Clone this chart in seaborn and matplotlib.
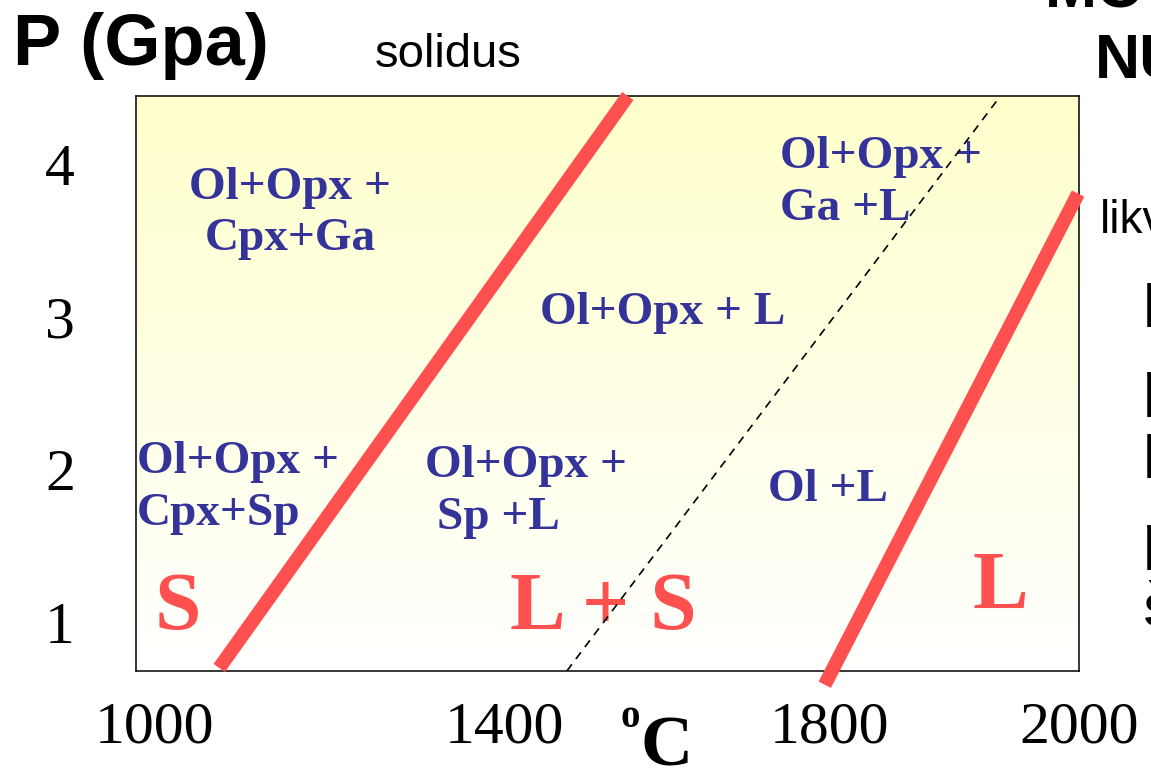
import numpy as np
import seaborn as sns
import matplotlib.pyplot as plt
from matplotlib.colors import LinearSegmentedColormap

# phase boundaries (temperature in C, pressure in GPa)
solidus_t = [1070, 1512]
solidus_p = [0.70, 4.45]
liquidus_t = [1725, 1999]
liquidus_p = [0.59, 3.81]
garnet_t = [1446, 1915]
garnet_p = [0.68, 4.45]

# axis ticks (the original is a sketch, tick spacing is not linear)
x_ticks = [1000, 1379, 1730, 2000]
x_labels = ["1000", "1400", "1800", "2000"]
y_ticks = [1, 2, 3, 4]
y_labels = ["1", "2", "3", "4"]

# mineral assemblages
phase_text = ["Ol+Opx +\nCpx+Ga", "Ol+Opx +\nGa +L", "Ol+Opx + L",
              "Ol+Opx +\nCpx+Sp", "Ol+Opx +\n Sp +L", "Ol +L"]
phase_t = [1147, 1677, 1417, 981, 1293, 1664]
phase_p = [3.68, 3.88, 3.03, 1.88, 1.855, 1.87]
phase_ha = ["center", "left", "left", "left", "left", "left"]

# fields
field_text = ["S", "L + S", "L"]
field_t = [1025, 1486, 1915]
field_p = [1.08, 1.08, 1.22]

navy = "#333399"
red = "#FF5050"
serif = ["Liberation Serif", "DejaVu Serif"]
sans = ["Liberation Sans", "DejaVu Sans"]

sns.set_style("white")
plt.rcParams["text.color"] = "black"
fig = plt.figure(figsize=(11.51, 7.69), dpi=100)
ax = fig.add_axes([136 / 1151, 98 / 769, 943 / 1151, 575 / 769])

xlim = (980, 2000)
ylim = (0.68, 4.45)

# yellow to white background
grad = LinearSegmentedColormap.from_list("bg", ["#FFFFFF", "#FFFFCC"])
ax.imshow(np.linspace(0, 1, 256).reshape(-1, 1), cmap=grad, origin="lower",
          extent=(*xlim, *ylim), aspect="auto", zorder=0)

sns.lineplot(x=solidus_t, y=solidus_p, ax=ax, color=red, linewidth=10,
             sort=False, solid_capstyle="butt", clip_on=False, zorder=3)
sns.lineplot(x=liquidus_t, y=liquidus_p, ax=ax, color=red, linewidth=10,
             sort=False, solid_capstyle="butt", clip_on=False, zorder=3)
sns.lineplot(x=garnet_t, y=garnet_p, ax=ax, color="black", linewidth=1.2,
             linestyle=(0, (5, 4)), sort=False, zorder=4)

for txt, t, p, ha in zip(phase_text, phase_t, phase_p, phase_ha):
    ax.text(t, p, txt, ha=ha, va="center", color=navy, fontsize=34,
            fontweight="bold", family=serif, linespacing=1.3, zorder=2)

for txt, t, p in zip(field_text, field_t, field_p):
    ax.text(t, p, txt, ha="center", va="center", color=red, fontsize=60,
            fontweight="bold", family=serif, zorder=2)

ax.set_xlim(xlim)
ax.set_ylim(ylim)
ax.set_xticks(x_ticks)
ax.set_xticklabels(x_labels, family=serif, fontsize=43, color="black")
ax.set_yticks(y_ticks)
ax.set_yticklabels(y_labels, family=serif, fontsize=43, color="black")
ax.tick_params(axis="x", length=0, pad=22)
ax.tick_params(axis="y", length=0, pad=44)
for s in ax.spines.values():
    s.set_color("black")
    s.set_linewidth(1.1)
ax.set_xlabel("")
ax.set_ylabel("")

# axis titles and slide text around the chart
fig.text(13 / 1151, (769 - 65) / 769, "P (Gpa)", family=sans, fontweight="bold",
         fontsize=52, va="baseline")
fig.text(375 / 1151, (769 - 67) / 769, "solidus", family=sans, fontsize=34,
         va="baseline")
fig.text(1100 / 1151, (769 - 233) / 769, "likvidus", family=sans, fontsize=33,
         va="baseline")
fig.text(1045 / 1151, (769 - 8) / 769, "MO", family=sans, fontweight="bold",
         fontsize=45, va="baseline")
fig.text(1095 / 1151, (769 - 78) / 769, "NU", family=sans, fontweight="bold",
         fontsize=45, va="baseline")
for ch, base in zip(["l", "p", "h", "p", "š"], [327, 404, 478, 557, 625]):
    fig.text(1143 / 1151, (769 - base) / 769, ch, family=sans, fontsize=44,
             fontweight="bold", va="baseline")
fig.text(620 / 1151, (769 - 727) / 769, "o", family=serif, fontweight="bold",
         fontsize=28, va="baseline")
fig.text(640 / 1151, (769 - 765) / 769, "C", family=serif, fontweight="bold",
         fontsize=52, va="baseline")

fig.savefig("out.png", dpi=100)
